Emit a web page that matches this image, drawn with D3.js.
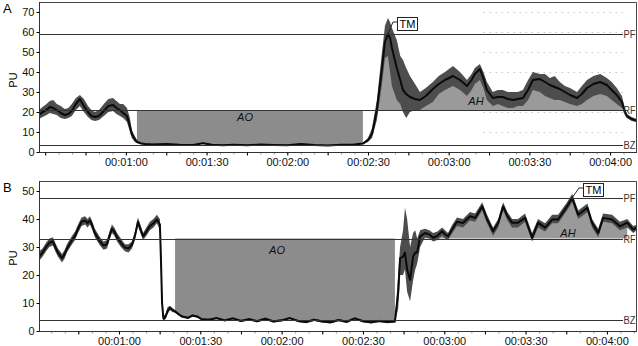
<!DOCTYPE html>
<html>
<head>
<meta charset="utf-8">
<script src="https://cdn.jsdelivr.net/npm/d3@7"></script>
<style>
  body { margin: 0; background: #fff; }
  text { font-family: "Liberation Sans", Arial, sans-serif; }
</style>
</head>
<body>
<div id="chart"></div>
<script>
// ---- data (time in seconds, values in PU) ----
const tA = [27.7, 29, 30.5, 31.7, 33, 34.3, 35.8, 37.3, 38.6, 39.9, 41.4, 42.9, 44.4, 45.9, 47.2, 48.5, 50, 51.8, 53.5, 55.2, 56.5, 57.8, 59, 60.4, 61.5, 62.2, 63.3, 64.1, 65.5, 67.1,
  70, 75, 80, 85, 88.6, 92, 96, 100, 105, 110, 115, 120, 125, 130, 135, 140, 145, 148.1,
  150, 151.5, 153.3, 155.2, 156.3, 157.4, 158.2, 158.9, 160.7, 162, 163, 164.2, 165.6, 167.5, 169.3, 171.5, 174.1, 176.3, 178.6, 181.6, 184.2, 186.8, 188.5, 189.7, 191.6, 192.9, 194.2, 196.4, 198.3, 200.1, 202, 203.9, 205.7, 207.6, 209.5, 211.3, 213.9, 215.8, 217.6, 219.4, 221.3, 223.2, 225.1, 227.7, 229.5, 231.4, 233.8, 236.3, 238.8, 240.6, 242.5, 244.4, 245.3, 246.2, 248, 250];
const meanA = [18.5, 20, 21, 22.5, 22, 21, 19.5, 18.5, 19, 20.5, 24, 26.5, 23, 20, 18, 17.5, 18, 20.5, 23, 23.5, 22, 21, 19.5, 18, 13, 9, 6.5, 5, 4.3, 4,
  3.8, 4, 3.6, 3.5, 4.4, 3.6, 3.4, 3.6, 3.4, 3.7, 3.5, 3.4, 4, 3.5, 3.3, 3.6, 3.8, 4.2,
  6, 9, 21, 42, 55, 59, 57, 52, 42, 36, 31, 29, 27.5, 26.5, 26, 28, 31.5, 34, 36, 38, 36, 33, 36, 39, 41.5, 37, 31, 27, 27.5, 27.5, 26.5, 26, 26.5, 27, 31, 36, 36.5, 35, 33.5, 32.5, 31.5, 30, 28.5, 27, 29, 32, 34, 35, 33.5, 31, 28.5, 25, 21, 18, 16.5, 15.5];
const loA = [16.5, 17.5, 18.5, 19.5, 19, 18.5, 17, 16.5, 17, 18, 21, 23, 20, 17.5, 16, 15.5, 16, 18, 20, 20.5, 19, 18, 17, 15, 10, 7, 5, 4.5, 4, 3.7,
  3.5, 3.7, 3.3, 3.2, 4.1, 3.3, 3.1, 3.3, 3.1, 3.4, 3.2, 3.1, 3.7, 3.2, 3, 3.3, 3.5, 3.9,
  5, 7, 16, 34, 47, 48, 40, 33, 26, 24, 20, 17, 20, 21, 21, 23, 25, 29, 31, 33, 31, 28, 31, 34, 36, 32, 26, 23, 24, 23, 22, 22, 23, 23, 26, 31, 30, 28, 27, 26, 26, 25, 24, 23, 24, 26, 28, 29, 28, 26, 24, 22, 19, 17, 15.5, 15];
const hiA = [21, 22.5, 24, 25.5, 26, 24, 23, 21.5, 22, 24, 27, 28.5, 26.5, 23, 21, 20, 21, 24, 26.5, 27, 25.5, 24, 24, 22, 17, 11, 8, 6, 5, 4.3,
  4.1, 4.3, 3.9, 3.8, 4.7, 3.9, 3.7, 3.9, 3.7, 4, 3.8, 3.7, 4.3, 3.8, 3.6, 3.9, 4.1, 4.5,
  7, 12, 26, 50, 63, 67, 65, 62, 56, 48, 46, 42, 38, 34, 30, 32, 35, 38, 40, 43, 40, 36, 39, 42, 44, 40, 35, 30, 31, 31, 30, 30, 30, 31, 36, 40, 39, 39, 37, 38, 35, 33, 32, 30, 33, 36, 38, 39, 37, 35, 32, 28, 23, 19, 17.5, 16.5];

const tB = [30.5, 31.8, 33.1, 34.3, 35.6, 36.5, 37.5, 39, 40, 40.8, 42.7, 43.8, 44.9, 46.2, 47.5, 48.4, 49.3, 50.2, 51.1, 53, 54.3, 55.6, 56.5, 57.4, 58.3, 59.3, 60.7, 62.2, 63.5, 64.8, 65.9, 67, 67.9, 68.9, 70.1, 71.4, 72.7, 74, 75.1, 75.5, 75.9, 76.4, 77, 77.9, 78.8, 79.7, 80.7, 82, 83.2,
  85.5, 87, 88.8, 90.5, 93, 96, 99, 102, 105, 108, 111, 114, 117, 120, 123, 126, 129, 132, 135, 138, 141, 144, 147, 150, 153, 156, 159, 161.8,
  163, 163.7, 164.8, 165.5, 166.3, 167.4, 168.5, 169.3, 170, 171.1, 172.9, 174.5, 175.9, 177.5, 179.2, 180.3, 181.4, 183, 184.7, 186.9, 189.5, 191.4, 194, 195.8, 198, 199.9, 201.7, 203.3, 205, 207.2, 209.8, 212.4, 214.6, 217.2, 219.8, 222, 225.3, 227.2, 229.4, 232.8, 234.5, 236.8, 238.6, 241.9, 244.8, 247.5, 249.7, 251];
const meanB = [26.5, 28, 30, 31.5, 32, 30, 28, 26, 27.5, 29.5, 32.5, 34, 36.5, 39, 39.5, 38.5, 39.5, 37.5, 35, 32, 30.5, 31, 34, 36.5, 35.5, 33.5, 31.5, 29.8, 29.5, 30.8, 34, 39, 36.5, 33.8, 35.5, 37.4, 38.5, 39.8, 38, 25, 10, 4.5, 4.7, 7, 8.3, 7.5, 7, 6, 5.2,
  4.7, 5.5, 5.2, 4.2, 4, 4.6, 3.8, 4.5, 3.6, 4.2, 3.5, 4.4, 3.4, 3.8, 4.6, 3.6, 3.2, 4, 3.4, 3.1, 3.9, 3.3, 4.5, 3.5, 3.1, 3.6, 3.2, 3.4,
  13.7, 26, 26.6, 28, 22, 18.3, 26.6, 28, 28, 33.8, 35, 34.5, 33.3, 34, 35.6, 34.5, 33.8, 36.5, 39, 38.6, 41, 40.4, 44.5, 39.8, 35.6, 38.6, 44.5, 41, 38.7, 38.7, 40.4, 33.3, 38.7, 36.9, 39.8, 39.8, 44.5, 47.6, 41.5, 44, 38.7, 35, 40.4, 39.8, 37.4, 38.7, 36.2, 37];
const loB = [25, 26.5, 28.5, 30, 30.5, 28.5, 26.5, 24.5, 26, 28, 31, 32.5, 35, 37.5, 38, 37, 38, 36, 33.5, 30.5, 29, 29.5, 32.5, 35, 34, 32, 30, 28.5, 28, 29.5, 32.5, 37.5, 35, 32.5, 34, 36, 37, 38.5, 36, 20, 6, 3.5, 4, 6, 7.5, 6.8, 6.5, 5.5, 4.8,
  4.3, 5.1, 4.8, 3.8, 3.6, 4.2, 3.4, 4.1, 3.2, 3.8, 3.1, 4, 3, 3.4, 4.2, 3.2, 2.8, 3.6, 3, 2.7, 3.5, 2.9, 4.1, 3.1, 2.7, 3.2, 2.8, 3,
  8, 20, 20, 22, 14, 10.6, 18, 22, 24, 30, 33.5, 33, 32, 32.5, 34, 33, 32.5, 35, 37.5, 37, 39.5, 39, 43, 38.5, 34, 37, 43, 39.5, 37, 37, 39, 32, 37, 35.5, 38.5, 38.5, 43, 46, 40, 42.5, 37, 33.5, 39, 38.5, 36, 37, 35, 36];
const hiB = [28.5, 29.5, 31.5, 33, 33.5, 31.5, 29.5, 27.5, 29, 31, 34, 35.5, 38, 40.5, 41, 40, 41, 39, 36.5, 33.5, 32, 32.5, 35.5, 38, 37, 35, 33, 31, 31, 32, 35.5, 40.5, 38, 35, 37, 39, 40, 41.5, 40, 33, 15, 6, 5.5, 8.5, 9, 8.2, 7.5, 6.5, 5.6,
  5.1, 5.9, 5.6, 4.6, 4.4, 5, 4.2, 4.9, 4, 4.6, 3.9, 4.8, 3.8, 4.2, 5, 4, 3.6, 4.4, 3.8, 3.5, 4.3, 3.7, 4.9, 3.9, 3.5, 4, 3.6, 3.8,
  20, 30, 36, 44, 40, 30, 35, 36, 33, 36, 36.5, 36, 35, 35.5, 37, 36, 35, 38, 40.5, 40, 42.5, 42, 46, 41.5, 37, 40, 46, 42.5, 40, 40, 42, 35, 40, 38.5, 41.5, 41.5, 46, 49, 43, 45.5, 40, 36.5, 42, 41.5, 39, 40, 37.5, 38];

// reference levels [PF, RF, BZ]
const levelsA = [59, 21, 3.7];
const levelsB = [47.6, 33, 3.8];
const levelNames = ["PF", "RF", "BZ"];
const yTicksA = [0, 10, 20, 30, 40, 50, 60, 70];
const yTicksB = [0, 10, 20, 30, 40, 50];
const xLabelTicks = [60, 90, 120, 150, 180, 210, 240];
// shaded periods [start, end] in seconds
const aoA = [64.1, 148.1], ahA = [153.3, 244.4];
const aoB = [80.7, 161.8], ahB = [171.1, 247.5];
const tmA = 157.4, tmB = 227.2;

const W = 638, H = 346;
const R = 636; // right frame
const svg = d3.select("#chart").append("svg")
  .attr("width", W).attr("height", H)
  .attr("viewBox", [0, 0, W, H]);

const fmt = d3.utcFormat("%H:%M:%S");

function panel(o) {
  const g = svg.append("g");
  const x = d3.scaleLinear().domain(o.xDomain).range([39, 637]);
  const y = d3.scaleLinear().domain([0, o.yMax]).range([o.bottom, o.top]);
  const pts = o.t.map((t, i) => ({ t: t, m: o.mean[i], lo: o.lo[i], hi: o.hi[i] }));
  const rf = o.levels[1];

  g.append("clipPath").attr("id", "clip" + o.id)
    .append("rect").attr("x", 39).attr("y", o.top).attr("width", R - 39).attr("height", o.bottom - o.top);
  const plot = g.append("g").attr("clip-path", `url(#clip${o.id})`);

  // faint dotted grid (only right part in A)
  if (o.gridFrom) {
    plot.append("g").selectAll("line").data(o.yTicks.slice(1)).join("line")
      .attr("x1", x(o.gridFrom)).attr("x2", 623)
      .attr("y1", d => y(d) + 0.5).attr("y2", d => y(d) + 0.5)
      .attr("stroke", "#aaa").attr("stroke-dasharray", "1,5");
  }

  // AO area: between RF and the trace
  const ao = pts.filter(d => d.t >= o.ao[0] && d.t <= o.ao[1]);
  plot.append("path").datum(ao)
    .attr("fill", "#8c8c8c")
    .attr("d", d3.area().x(d => x(d.t)).y0(y(rf)).y1(d => y(Math.min(d.m, rf))));

  // AH area: trace above RF
  const ah = pts.filter(d => d.t >= o.ah[0] && d.t <= o.ah[1]);
  plot.append("path").datum(ah)
    .attr("fill", "#9a9a9a")
    .attr("d", d3.area().x(d => x(d.t)).y0(y(rf)).y1(d => y(Math.max(d.m, rf))));

  // reference lines
  g.append("g").selectAll("line").data(o.levels).join("line")
    .attr("x1", 39).attr("x2", 623)
    .attr("y1", d => Math.round(y(d)) + 0.5).attr("y2", d => Math.round(y(d)) + 0.5)
    .attr("stroke", "#333").attr("stroke-width", 1);

  // envelope + mean trace
  plot.append("path").datum(pts)
    .attr("fill", "#4d4d4d")
    .attr("d", d3.area().x(d => x(d.t)).y0(d => y(d.lo)).y1(d => y(d.hi)));
  plot.append("path").datum(pts)
    .attr("fill", "none").attr("stroke", "#0a0a0a").attr("stroke-width", 2)
    .attr("stroke-linejoin", "round")
    .attr("d", d3.line().x(d => x(d.t)).y(d => y(d.m)));

  g.append("g").selectAll("text").data(o.levels).join("text")
    .attr("x", 623.5).attr("y", d => y(d) + 4)
    .attr("font-size", 10).attr("fill", "#333")
    .attr("textLength", 12).attr("lengthAdjust", "spacingAndGlyphs")
    .text((d, i) => levelNames[i]);

  // frame
  g.append("path").attr("d", `M39,${o.top + 0.5}H${R + 0.5}V${o.bottom}`)
    .attr("fill", "none").attr("stroke", "#444");

  // axes
  const yAxis = g.append("g").attr("transform", "translate(39.5,0)")
    .call(d3.axisLeft(y).tickValues(o.yTicks).tickSize(3).tickPadding(2).tickSizeOuter(0));
  yAxis.select(".domain").attr("d", `M0,${o.top}V${o.bottom}`).attr("stroke", "#333");
  yAxis.selectAll("text").attr("font-size", 11).attr("fill", "#111").attr("font-family", "Liberation Sans, Arial");

  const minor = d3.range(Math.ceil(o.xDomain[0] / 5) * 5, o.xDomain[1], 5);
  g.append("g").attr("transform", `translate(0,${o.bottom + 0.5})`)
    .call(d3.axisBottom(x).tickValues(minor).tickSize(2).tickFormat(""))
    .call(a => a.select(".domain").remove())
    .selectAll("line").attr("stroke", "#999");
  const major = d3.range(Math.ceil(o.xDomain[0] / 15) * 15, o.xDomain[1], 15);
  const xAxis = g.append("g").attr("transform", `translate(0,${o.bottom + 0.5})`)
    .call(d3.axisBottom(x).tickValues(major).tickSize(3).tickSizeOuter(0).tickPadding(3)
      .tickFormat(d => xLabelTicks.includes(d) ? fmt(new Date(d * 1000)) : ""));
  xAxis.select(".domain").attr("d", `M39,0H${R + 1}`).attr("stroke", "#333");
  xAxis.selectAll("text").attr("font-size", 11).attr("fill", "#111").attr("font-family", "Liberation Sans, Arial");

  // labels
  g.append("text").attr("x", 3).attr("y", o.top + 11).attr("font-size", 13).text(o.id);
  g.append("text").attr("transform", `translate(17,${o.puY}) rotate(-90)`)
    .attr("text-anchor", "middle").attr("font-size", 11).text("PU");
  g.append("text").attr("x", o.aoLabel[0]).attr("y", o.aoLabel[1]).attr("text-anchor", "middle")
    .attr("font-size", 11).attr("font-style", "italic").attr("fill", "#111").text("AO");
  g.append("text").attr("x", o.ahLabel[0]).attr("y", o.ahLabel[1]).attr("text-anchor", "middle")
    .attr("font-size", 11).attr("font-style", "italic").attr("fill", "#111").text("AH");

  // TM callout
  const tmPt = pts.find(d => d.t === o.tm);
  const bx = o.tmBox[0], by = o.tmBox[1];
  g.append("path")
    .attr("d", `M${x(tmPt.t)},${y(tmPt.m)}L${bx - 4},${by + 5}L${bx},${by + 5}`)
    .attr("fill", "none").attr("stroke", "#222");
  g.append("rect").attr("x", bx + 0.5).attr("y", by + 0.5).attr("width", 20).attr("height", 13)
    .attr("fill", "#fff").attr("stroke", "#222");
  g.append("text").attr("x", bx + 10.5).attr("y", by + 11).attr("text-anchor", "middle")
    .attr("font-size", 11).text("TM");
}

panel({ id: "A", t: tA, mean: meanA, lo: loA, hi: hiA, xDomain: [27.7, 250], yMax: 75, top: 2, bottom: 152,
  levels: levelsA, yTicks: yTicksA, ao: aoA, ah: ahA, tm: tmA, tmBox: [397, 17],
  aoLabel: [245, 121], ahLabel: [476, 105], puY: 80, gridFrom: 193 });
panel({ id: "B", t: tB, mean: meanB, lo: loB, hi: hiB, xDomain: [30.5, 251.1], yMax: 150 / 2.8, top: 181, bottom: 331,
  levels: levelsB, yTicks: yTicksB, ao: aoB, ah: ahB, tm: tmB, tmBox: [583, 183],
  aoLabel: [277, 254], ahLabel: [568, 237], puY: 258, gridFrom: null });
</script>
</body>
</html>
